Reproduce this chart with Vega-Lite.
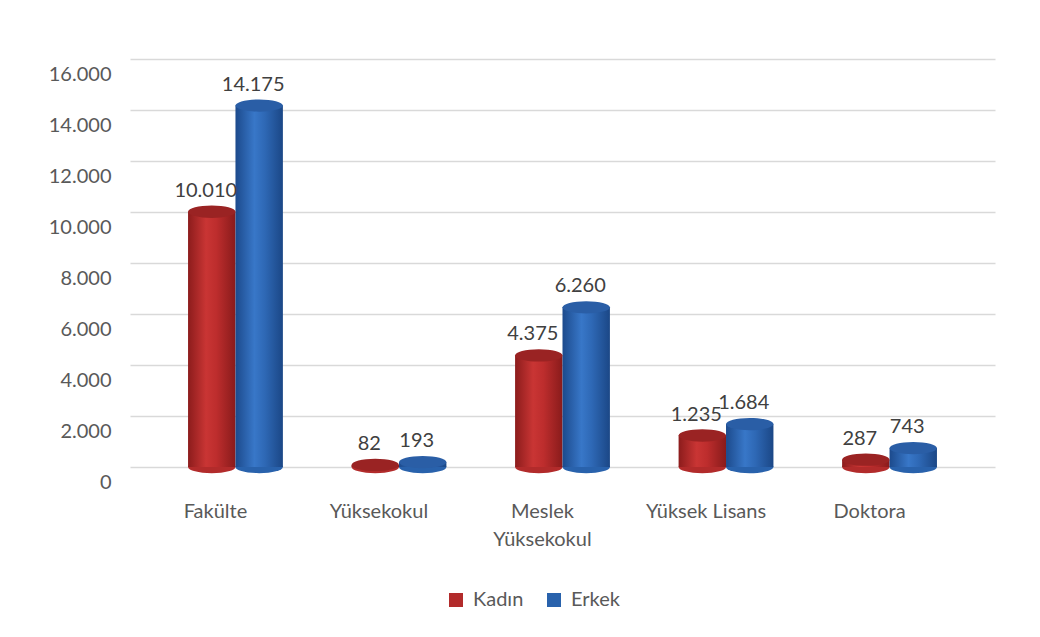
{
  "$schema": "https://vega.github.io/schema/vega-lite/v6.json",
  "width": 865,
  "height": 408,
  "autosize": {"type": "none"},
  "padding": {"left": 130, "top": 59, "right": 45, "bottom": 170},
  "background": "white",
  "config": {
    "locale": {"number": {"decimal": ",", "thousands": ".", "grouping": [3], "currency": ["", " TL"]}},
    "font": "Lato",
    "view": {"stroke": null},
    "axis": {"labelFont": "Lato", "labelColor": "#595959", "labelFontSize": 20}
  },
  "data": {
    "values": [
      {"category": "Fakülte", "gender": "Kadın", "value": 10010},
      {"category": "Fakülte", "gender": "Erkek", "value": 14175},
      {"category": "Yüksekokul", "gender": "Kadın", "value": 82},
      {"category": "Yüksekokul", "gender": "Erkek", "value": 193},
      {"category": "Meslek Yüksekokul", "gender": "Kadın", "value": 4375},
      {"category": "Meslek Yüksekokul", "gender": "Erkek", "value": 6260},
      {"category": "Yüksek Lisans", "gender": "Kadın", "value": 1235},
      {"category": "Yüksek Lisans", "gender": "Erkek", "value": 1684},
      {"category": "Doktora", "gender": "Kadın", "value": 287},
      {"category": "Doktora", "gender": "Erkek", "value": 743}
    ]
  },
  "encoding": {
    "x": {
      "field": "category", "type": "nominal", "sort": null,
      "scale": {"paddingInner": 0.42, "paddingOuter": 0.355},
      "axis": {
        "title": null, "domain": false, "ticks": false, "labelAngle": 0,
        "labelPadding": 34, "labelOffset": -20, "labelLineHeight": 28,
        "labelExpr": "datum.value == 'Meslek Yüksekokul' ? ['Meslek', 'Yüksekokul'] : datum.value"
      }
    },
    "xOffset": {
      "field": "gender", "type": "nominal",
      "scale": {"domain": ["Kadın", "Erkek"], "paddingInner": 0, "paddingOuter": 0}
    }
  },
  "layer": [
    {
      "mark": {"type": "point", "filled": true, "opacity": 1, "size": 2247,
               "shape": "M -1 0 A 1 0.26 0 1 0 1 0 A 1 0.26 0 1 0 -1 0 Z"},
      "encoding": {
        "y": {"datum": 0, "type": "quantitative",
              "scale": {"domain": [0, 16000]},
              "axis": {"title": null, "domain": false, "ticks": false, "grid": true,
                       "values": [0,2000,4000,6000,8000,10000,12000,14000,16000],
                       "format": ",d", "labelPadding": 19, "labelOffset": 15,
                       "gridColor": "#D9D9D9", "gridWidth": 1.5}},
        "color": {
          "field": "gender", "type": "nominal",
          "scale": {"domain": ["Kadın", "Erkek"], "range": ["#B22B2B", "#2962AC"]},
          "legend": {
            "title": null, "orient": "none", "direction": "horizontal",
            "legendX": 316, "legendY": 531,
            "symbolType": "square", "symbolSize": 196, "symbolStrokeWidth": 0,
            "labelFontSize": 20, "labelColor": "#595959", "labelFont": "Lato",
            "labelOffset": 7, "columnPadding": 20
          }
        }
      }
    },
    {
      "transform": [{"filter": "datum.gender == 'Kadın'"}],
      "mark": {"type": "bar", "color": {"gradient": "linear", "x1": 0, "y1": 0, "x2": 1, "y2": 0,
        "stops": [{"offset": 0, "color": "#8C1C1C"}, {"offset": 0.38, "color": "#C93534"}, {"offset": 0.6, "color": "#BD2D2D"}, {"offset": 1, "color": "#891B1B"}]}},
      "encoding": {"y": {"field": "value", "type": "quantitative"}}
    },
    {
      "transform": [{"filter": "datum.gender == 'Erkek'"}],
      "mark": {"type": "bar", "color": {"gradient": "linear", "x1": 0, "y1": 0, "x2": 1, "y2": 0,
        "stops": [{"offset": 0, "color": "#1C4A8C"}, {"offset": 0.4, "color": "#3877C8"}, {"offset": 0.62, "color": "#2E68B5"}, {"offset": 1, "color": "#1B4786"}]}},
      "encoding": {"y": {"field": "value", "type": "quantitative"}}
    },
    {
      "transform": [{"filter": "datum.gender == 'Kadın'"}],
      "mark": {"type": "point", "filled": true, "opacity": 1, "size": 2247, "color": "#9A2323",
               "shape": "M -1 0 A 1 0.26 0 1 0 1 0 A 1 0.26 0 1 0 -1 0 Z"},
      "encoding": {"y": {"field": "value", "type": "quantitative"}}
    },
    {
      "transform": [{"filter": "datum.gender == 'Erkek'"}],
      "mark": {"type": "point", "filled": true, "opacity": 1, "size": 2247, "color": "#2A5EA6",
               "shape": "M -1 0 A 1 0.26 0 1 0 1 0 A 1 0.26 0 1 0 -1 0 Z"},
      "encoding": {"y": {"field": "value", "type": "quantitative"}}
    },
    {
      "mark": {"type": "text", "fontSize": 20, "color": "#404040", "baseline": "middle", "dy": -21, "dx": -6, "font": "Lato"},
      "encoding": {
        "y": {"field": "value", "type": "quantitative"},
        "text": {"field": "value", "type": "quantitative", "format": ","}
      }
    }
  ]
}
